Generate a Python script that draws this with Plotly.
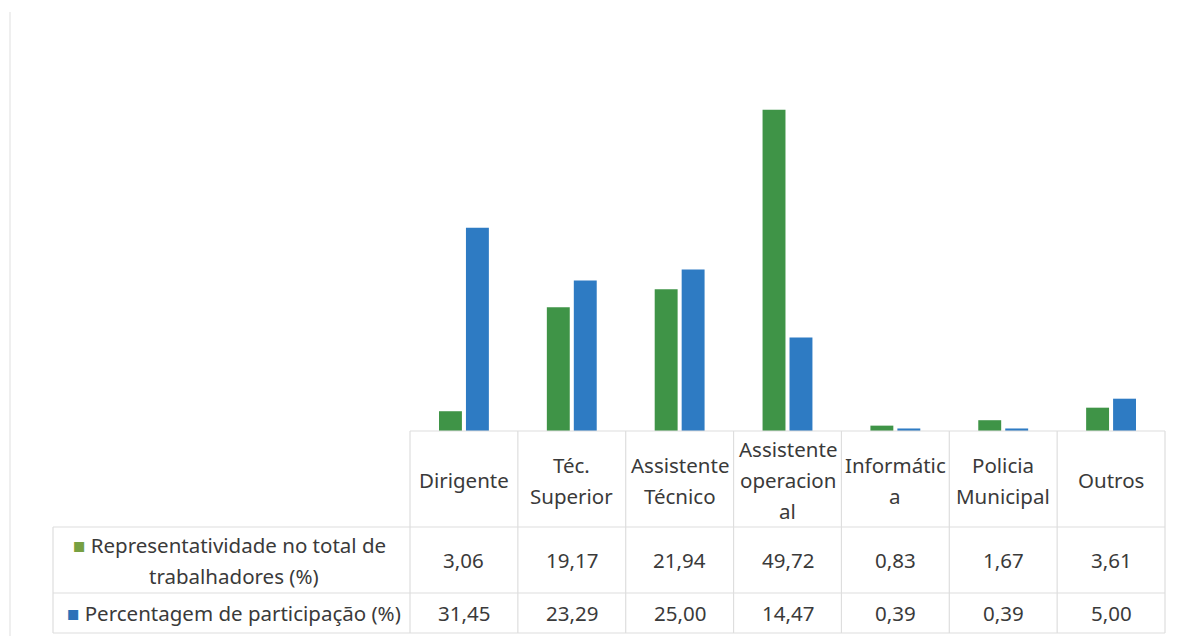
import plotly.graph_objects as go

# Categorias profissionais (quebras de linha como na tabela de dados)
categorias = ["Dirigente", "Téc.\nSuperior", "Assistente\nTécnico",
              "Assistente\noperacion\nal", "Informátic\na", "Policia\nMunicipal", "Outros"]
representatividade = [3.06, 19.17, 21.94, 49.72, 0.83, 1.67, 3.61]
participacao = [31.45, 23.29, 25.00, 14.47, 0.39, 0.39, 5.00]
serie_rep = "Representatividade no total de\ntrabalhadores (%)"
serie_part = "Percentagem de participação (%)"

W, H = 1182, 636
COR_VERDE = "#3f9447"
COR_AZUL = "#2e7bc3"
COR_LEG_VERDE = "#77a042"
COR_LEG_AZUL = "#2a72b8"
COR_TEXTO = "#3a3a3a"
COR_LINHA = "#dedede"
FONTE = "Noto Sans"
TAM = 20.5

# geometria (pixeis)
x0_plot, x1_plot = 410, 1165
x_leg = 53
y_base = 431
y_cab = 527
y_l1 = 593
y_fim = 633
px_por_unid = 6.46

def px(x):
    return x / W

def py(y):
    return 1 - y / H

xs = list(range(len(categorias)))

fig = go.Figure()
fig.add_trace(go.Bar(x=xs, y=representatividade, name=serie_rep,
                     marker=dict(color=COR_VERDE, line=dict(width=0))))
fig.add_trace(go.Bar(x=xs, y=participacao, name=serie_part,
                     marker=dict(color=COR_AZUL, line=dict(width=0))))

fig.update_layout(
    width=W, height=H,
    margin=dict(l=0, r=0, t=0, b=0),
    paper_bgcolor="white", plot_bgcolor="white",
    showlegend=False,
    barmode="group", bargap=0.5, bargroupgap=0.15,
    xaxis=dict(domain=[px(x0_plot), px(x1_plot)], range=[-0.5, len(categorias) - 0.5],
               showticklabels=False, showgrid=False, zeroline=False,
               showline=False, ticks=""),
    yaxis=dict(domain=[py(y_base), 1], range=[0, y_base / px_por_unid],
               showticklabels=False, showgrid=False, zeroline=False,
               showline=False, ticks=""),
    font=dict(family=FONTE, size=TAM, color=COR_TEXTO),
)

shapes = []
def linha(xa, ya, xb, yb, cor=COR_LINHA, w=1.2):
    shapes.append(dict(type="line", xref="paper", yref="paper",
                       x0=px(xa), y0=py(ya), x1=px(xb), y1=py(yb),
                       line=dict(color=cor, width=w)))

# moldura ténue do gráfico
linha(10, 12, 10, H, cor="#efefef", w=2)

# tabela de dados
n = len(categorias)
larg = (x1_plot - x0_plot) / n
linha(x0_plot, y_base, x1_plot, y_base)
for y in (y_cab, y_l1, y_fim):
    linha(x_leg, y, x1_plot, y)
linha(x_leg, y_cab, x_leg, y_fim)
for i in range(n + 1):
    xv = x0_plot + i * larg
    linha(xv, y_base, xv, y_fim)

anns = []
def texto(x, y, t, **kw):
    anns.append(dict(xref="paper", yref="paper", x=px(x), y=py(y), text=t,
                     showarrow=False, xanchor="center", yanchor="middle",
                     font=dict(family=FONTE, size=TAM, color=COR_TEXTO), **kw))

passo = 31
def fmt(v):
    return f"{v:.2f}".replace(".", ",")

for i, cat in enumerate(categorias):
    xc = x0_plot + (i + 0.5) * larg
    linhas = cat.split("\n")
    yc = (y_base + y_cab) / 2 + 1
    for k, l in enumerate(linhas):
        texto(xc, yc + (k - (len(linhas) - 1) / 2) * passo, l)
    texto(xc, (y_cab + y_l1) / 2, fmt(representatividade[i]))
    texto(xc, (y_l1 + y_fim) / 2, fmt(participacao[i]))

# cabeçalhos das séries (legenda da tabela)
xc_leg = (x_leg + x0_plot) / 2
l_rep = serie_rep.split("\n")
texto(xc_leg - 2, (y_cab + y_l1) / 2 - passo / 2,
      f'<span style="color:{COR_LEG_VERDE}">■</span> ' + l_rep[0])
texto(xc_leg + 2, (y_cab + y_l1) / 2 + passo / 2, l_rep[1])
texto(xc_leg + 2, (y_l1 + y_fim) / 2,
      f'<span style="color:{COR_LEG_AZUL}">■</span> ' + serie_part)

fig.update_layout(shapes=shapes, annotations=anns)
fig.write_html("out.html")
